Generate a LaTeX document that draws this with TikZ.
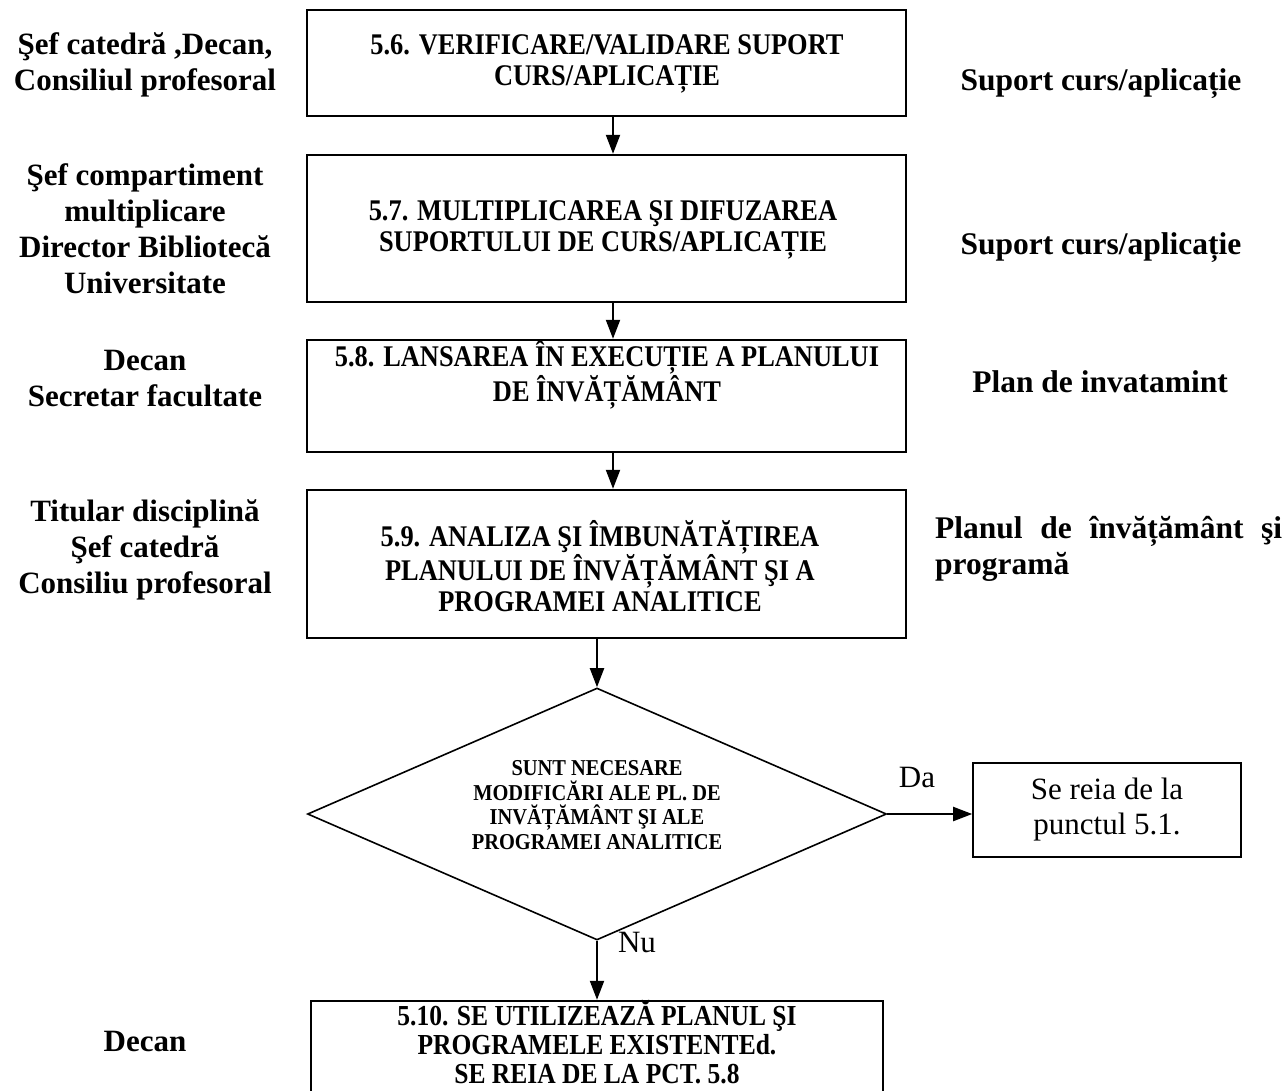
\documentclass[tikz,border=0pt]{standalone}
\usepackage{fontspec}
\setmainfont{Liberation Serif}
\newfontfamily\condbf[FakeStretch=0.88]{Liberation Serif}
\newfontfamily\condbfd[FakeStretch=0.9]{Liberation Serif}
\usetikzlibrary{shapes.geometric,arrows.meta}
\begin{document}
\begin{tikzpicture}[x=1pt,y=-1pt,
  box/.style={draw, line width=2.4pt, rectangle, inner sep=0pt, minimum width=599pt},
  arr/.style={line width=2pt, -{Triangle[length=19pt,width=14pt]}},
  role/.style={font=\bfseries\fontsize{31}{36}\selectfont, align=center, inner sep=0pt},
  docl/.style={font=\bfseries\fontsize{31.5}{36}\selectfont, align=center, inner sep=0pt},
  boxtxt/.style={font=\condbf\bfseries\fontsize{30}{31}\selectfont, align=center, inner sep=0pt},
  plain/.style={font=\fontsize{31}{35}\selectfont, align=center, inner sep=0pt},
]
\useasboundingbox (0,0) rectangle (1284,1090);
\fill[white] (0,0) rectangle (1284,1090);

% boxes
\node[box, minimum height=106pt] (b56) at (606.5,63) {};
\node[box, minimum height=147pt] (b57) at (606.5,228.5) {};
\node[box, minimum height=112pt] (b58) at (606.5,396) {};
\node[box, minimum height=148pt] (b59) at (606.5,564) {};
\node[diamond, draw, line width=1.6pt, minimum width=579pt, minimum height=252pt, inner sep=0pt] (dec) at (597,814) {};
\node[draw, line width=1.6pt, minimum width=268pt, minimum height=94pt, inner sep=0pt, plain] (rep) at (1107,810) {Se reia de la\\punctul 5.1.};
\node[box, minimum width=572pt, minimum height=118pt] (b510) at (597,1060) {};

% box texts
\node[boxtxt] (t56) at (607,64) {5.6. VERIFICARE/VALIDARE SUPORT\\CURS/APLICAȚIE};
\node[boxtxt] (t57) at (603,230) {5.7. MULTIPLICAREA ŞI DIFUZAREA\\SUPORTULUI DE CURS/APLICAȚIE};
\node[boxtxt] (t58) at (607,375) {5.8. LANSAREA ÎN EXECUȚIE A PLANULUI\\DE ÎNVĂȚĂMÂNT};
\node[boxtxt] (t59) at (600,566) {5.9. ANALIZA ŞI ÎMBUNĂTĂȚIREA\\PLANULUI DE ÎNVĂȚĂMÂNT ŞI A\\PROGRAMEI ANALITICE};
\node[font=\condbfd\bfseries\fontsize{22.7}{24.5}\selectfont, align=center, inner sep=0pt] (tdec) at (597,805) {SUNT NECESARE\\MODIFICĂRI ALE PL. DE\\INVĂȚĂMÂNT ŞI ALE\\PROGRAMEI ANALITICE};
\node[boxtxt, font=\condbf\bfseries\fontsize{29}{29}\selectfont] (t510) at (597,1042) {5.10. SE UTILIZEAZĂ PLANUL ŞI\\PROGRAMELE EXISTENTEd.\\SE REIA DE LA PCT. 5.8};

% left roles
\node[role] (r1) at (145,65) {Şef catedră ,Decan,\\Consiliul profesoral};
\node[role] (r2) at (145,229) {Şef compartiment\\multiplicare\\Director Bibliotecă\\Universitate};
\node[role] (r3) at (145,379) {Decan\\Secretar facultate};
\node[role] (r4) at (145,550) {Titular disciplină\\Şef catedră\\Consiliu profesoral};
\node[role] (r5) at (145,1041) {Decan};

% right documents
\node[docl] (d1) at (1101,84) {Suport curs/aplicație};
\node[docl] (d2) at (1101,248) {Suport curs/aplicație};
\node[docl] (d3) at (1100,382) {Plan de invatamint};
\node[docl, align=left, anchor=west] (d4) at (935,549) {\hbox to 347pt{Planul\hfill de\hfill învățământ\hfill şi}\\programă};

% connectors
\draw[arr] ([xshift=6.5pt]b56.south) -- ([xshift=6.5pt]b57.north);
\draw[arr] ([xshift=6.5pt]b57.south) -- ([xshift=6.5pt]b58.north);
\draw[arr] ([xshift=6.5pt]b58.south) -- ([xshift=6.5pt]b59.north);
\draw[arr] ([xshift=-9.5pt]b59.south) -- (dec.north);
\draw[arr] (dec.east) -- (dec.east -| rep.west);
\draw[arr] (dec.south) -- (b510.north);

% labels on connectors
\node[plain] (da) at (917,777) {Da};
\node[plain] (nu) at (637,942) {Nu};
\end{tikzpicture}
\end{document}
